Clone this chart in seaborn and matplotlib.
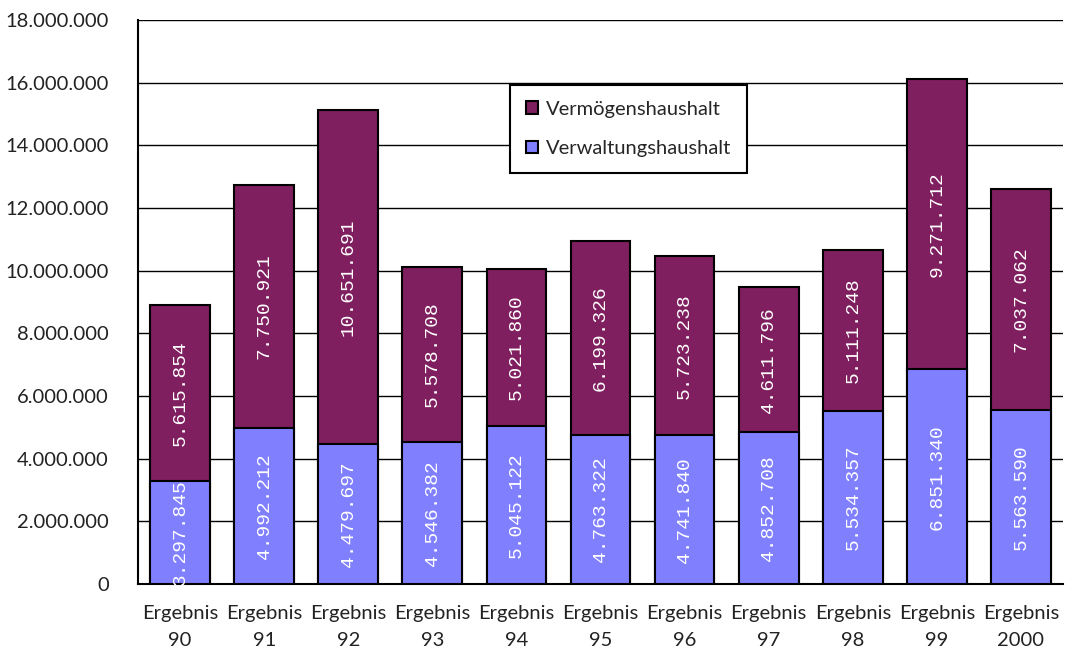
import pandas as pd
import seaborn as sns
import matplotlib.pyplot as plt
from matplotlib.patches import Patch

# Daten aus dem Diagramm
jahre = ['90', '91', '92', '93', '94', '95', '96', '97', '98', '99', '2000']
verwaltung = [3297845, 4992212, 4479697, 4546382, 5045122, 4763322,
              4741840, 4852708, 5534357, 6851340, 5563590]
vermoegen = [5615854, 7750921, 10651691, 5578708, 5021860, 6199326,
             5723238, 4611796, 5111248, 9271712, 7037062]

farbe_verm = '#7f1f5f'
farbe_verw = '#8080ff'

df = pd.DataFrame({
    'Jahr': ['Ergebnis\n' + j for j in jahre],
    'Verwaltungshaushalt': verwaltung,
    'Vermögenshaushalt': vermoegen,
})
df['Gesamt'] = df['Verwaltungshaushalt'] + df['Vermögenshaushalt']

sns.set_style('white')
plt.rcParams['font.family'] = ['Lato', 'DejaVu Sans']

fig, ax = plt.subplots(figsize=(10.65, 6.52), dpi=100)
fig.subplots_adjust(left=138/1065, right=1063/1065, top=1-20/652, bottom=1-584/652)

# gestapelte Balken: Gesamt (oben) und Verwaltung (unten)
sns.barplot(data=df, x='Jahr', y='Gesamt', color=farbe_verm, saturation=1,
            width=0.71, edgecolor='black', linewidth=1.5, ax=ax, zorder=3)
sns.barplot(data=df, x='Jahr', y='Verwaltungshaushalt', color=farbe_verw, saturation=1,
            width=0.71, edgecolor='black', linewidth=1.5, ax=ax, zorder=3)

def fmt(v):
    return f'{v:,}'.replace(',', '.')

for i, row in df.iterrows():
    ax.text(i, row['Verwaltungshaushalt'] / 2, fmt(row['Verwaltungshaushalt']),
            rotation=90, ha='center', va='center', color='white',
            family='Liberation Mono', fontsize=14, zorder=5)
    ax.text(i, row['Verwaltungshaushalt'] + row['Vermögenshaushalt'] / 2,
            fmt(row['Vermögenshaushalt']),
            rotation=90, ha='center', va='center', color='white',
            family='Liberation Mono', fontsize=14, zorder=5)

ax.set_xlim(-0.5, len(jahre) - 0.5)
ax.set_ylim(0, 18000000)
ax.set_yticks(range(0, 18000001, 2000000))
ax.set_yticklabels([fmt(v) for v in range(0, 18000001, 2000000)], fontsize=14.5, color='#222222')
ax.yaxis.grid(True, color='black', linewidth=1, zorder=0)
ax.set_axisbelow(True)

ax.set_xticks(range(len(jahre)))
ax.set_xticklabels(df['Jahr'], fontsize=14.5, color='#222222', linespacing=1.75)
ax.set_xticks([i - 0.5 for i in range(len(jahre) + 1)], minor=True)
ax.tick_params(axis='x', which='major', length=0, pad=15)
ax.tick_params(axis='x', which='minor', length=14, width=1.2, direction='inout', color='black')
ax.tick_params(axis='y', length=14, width=1.2, direction='inout', color='black', pad=14)
ax.set_xlabel('')
ax.set_ylabel('')

for s in ['top', 'right']:
    ax.spines[s].set_visible(False)
for s in ['left', 'bottom']:
    ax.spines[s].set_color('black')
    ax.spines[s].set_linewidth(1.5)

handles = [Patch(facecolor=farbe_verm, edgecolor='black', linewidth=1.5, label='Vermögenshaushalt'),
           Patch(facecolor=farbe_verw, edgecolor='black', linewidth=1.5, label='Verwaltungshaushalt')]
leg = ax.legend(handles=handles, loc='upper left', bbox_to_anchor=(0.402, 0.885),
                borderaxespad=0, fontsize=14.5, frameon=True, fancybox=False,
                framealpha=1, edgecolor='black', handlelength=0.6, handleheight=0.6,
                handletextpad=0.4, labelspacing=1.1, borderpad=0.8)
leg.get_frame().set_linewidth(1.5)
leg.set_zorder(6)

plt.savefig('out.png', dpi=100)
